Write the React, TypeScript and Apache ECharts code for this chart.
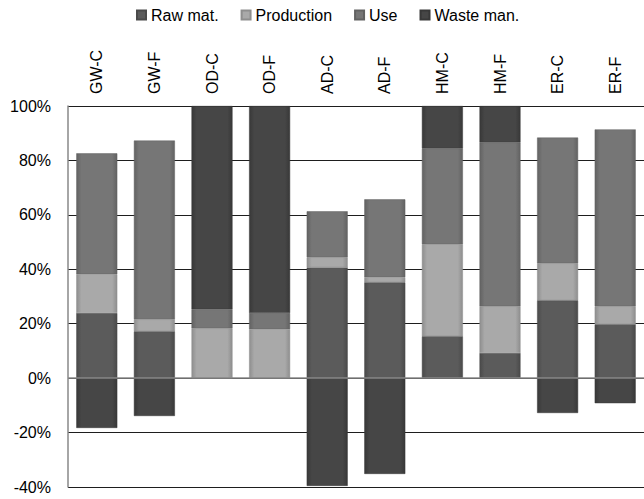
import React, { useEffect, useRef } from "react";
import * as echarts from "echarts";

const categories = ["GW-C", "GW-F", "OD-C", "OD-F", "AD-C", "AD-F", "HM-C", "HM-F", "ER-C", "ER-F"];
const seriesNames = ["Raw mat.", "Production", "Use", "Waste man."];
const rawMat = [23.9, 17.2, 0, 0, 40.7, 35.2, 15.4, 9.2, 28.6, 19.8];
const production = [14.3, 4.4, 18.3, 18.0, 3.7, 1.9, 33.8, 17.2, 13.6, 6.6];
const use = [44.4, 65.7, 7.0, 5.9, 16.9, 28.6, 35.2, 60.2, 46.2, 65.0];
const wasteMan = [-18.3, -13.9, 74.7, 76.1, -39.6, -35.2, 15.6, 13.4, -12.8, -9.2];
const yTicks = { min: -40, max: 100, interval: 20 };

const baseColors = ["#5b5b5b", "#a9a9a9", "#767676", "#464646"];
const edgeColors = ["#4a4a4a", "#8e8e8e", "#626262", "#383838"];

function grad(i: number) {
  return new echarts.graphic.LinearGradient(0, 0, 1, 0, [
    { offset: 0, color: edgeColors[i] },
    { offset: 0.12, color: baseColors[i] },
    { offset: 0.88, color: baseColors[i] },
    { offset: 1, color: edgeColors[i] },
  ]);
}

const FONT = "'Liberation Sans', Arial, sans-serif";

export default function App() {
  const ref = useRef<HTMLDivElement>(null);
  useEffect(() => {
    if (!ref.current) return;
    const chart = echarts.init(ref.current, undefined, { renderer: "svg" });
    const datas = [rawMat, production, use, wasteMan];
    chart.setOption({
      animation: false,
      backgroundColor: "#ffffff",
      legend: {
        top: 2,
        left: 131,
        icon: "rect",
        itemWidth: 9,
        itemHeight: 9,
        itemGap: 22,
        textStyle: { fontSize: 16, color: "#000", fontFamily: FONT },
        data: seriesNames,
      },
      grid: { left: 68, right: -14, top: 106, bottom: 12, containLabel: false },
      xAxis: {
        type: "category",
        data: categories,
        position: "top",
        axisLine: { show: false },
        axisTick: { show: false },
        axisLabel: { rotate: 90, margin: 12, fontSize: 16, color: "#000", fontFamily: FONT },
        splitLine: { show: false },
      },
      yAxis: {
        type: "value",
        min: yTicks.min,
        max: yTicks.max,
        interval: yTicks.interval,
        axisLine: { show: true, lineStyle: { color: "#888", width: 1.5 } },
        axisTick: { show: false },
        axisLabel: {
          formatter: "{value}%",
          margin: 17,
          fontSize: 16,
          color: "#000",
          fontFamily: FONT,
        },
        splitLine: { show: true, lineStyle: { color: "#1e1e1e", width: 1 } },
      },
      series: seriesNames.map((name, i) => ({
        name,
        type: "bar",
        stack: "total",
        barWidth: 41,
        data: datas[i],
        itemStyle: {
          color: grad(i),
          borderColor: edgeColors[i],
          borderWidth: 0.5,
        },
        ...(i === 3
          ? {
              markLine: {
                silent: true,
                symbol: "none",
                label: { show: false },
                lineStyle: { color: "#8a8a8a", width: 1.5, type: "solid" },
                data: [{ yAxis: 0 }],
              },
            }
          : {}),
      })),
    });
    return () => chart.dispose();
  }, []);
  return (
    <div
      ref={ref}
      style={{ position: "absolute", left: 0, top: 0, width: 644, height: 499 }}
    />
  );
}
